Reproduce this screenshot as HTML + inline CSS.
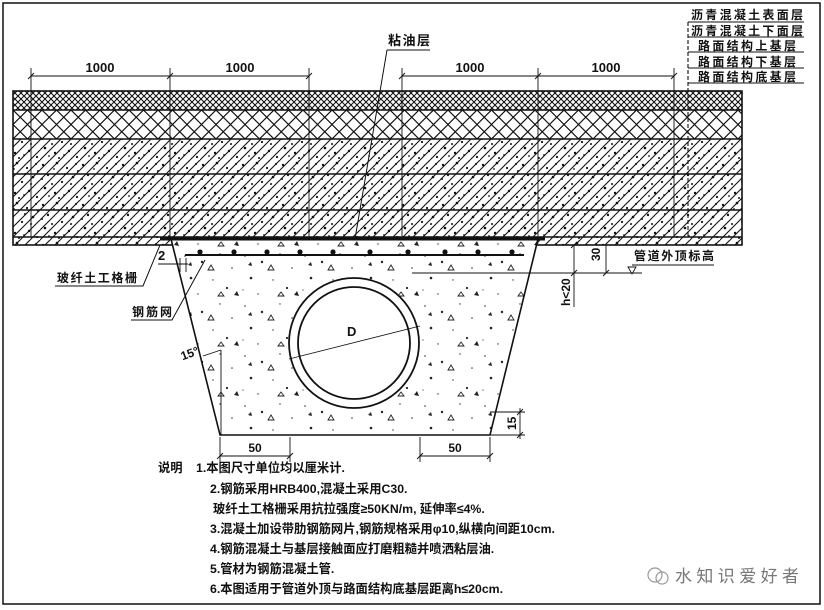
<!DOCTYPE html>
<html><head><meta charset="utf-8"><style>
html,body{margin:0;padding:0;background:#fff;}
svg{display:block;}
text{font-family:"Liberation Sans","Noto Sans CJK SC",sans-serif;font-weight:bold;fill:#111;}
</style></head><body>
<svg width="824" height="610" viewBox="0 0 824 610" xmlns="http://www.w3.org/2000/svg">
<defs>
<pattern id="fine" width="6" height="6" patternUnits="userSpaceOnUse">
<path d="M0,0L6,6M6,0L0,6" stroke="#111" stroke-width="1.1"/>
</pattern>
<pattern id="coarse" width="14.5" height="29" patternUnits="userSpaceOnUse" patternTransform="translate(13,110)">
<path d="M0,0L14.5,14.5L0,29M14.5,0L0,14.5L14.5,29" stroke="#111" stroke-width="1.2" fill="none"/>
</pattern>
<pattern id="hatch" width="40" height="40" patternUnits="userSpaceOnUse">
<path d="M-10,10L10,-10M-10,20L20,-10M-10,30L30,-10M-10,40L40,-10M0,40L40,0M10,40L40,10M20,40L40,20M30,40L40,30M-10,50L50,-10" stroke="#111" stroke-width="1.1"/>
<g fill="#111">
<circle cx="3" cy="5" r="1.2"/><circle cx="17" cy="3" r="1.3"/><circle cx="27" cy="8" r="1.1"/>
<circle cx="8" cy="15" r="1.2"/><circle cx="33" cy="17" r="1.3"/><circle cx="22" cy="22" r="1.1"/>
<circle cx="5" cy="28" r="1.3"/><circle cx="15" cy="33" r="1.2"/><circle cx="29" cy="31" r="1.2"/>
<circle cx="37" cy="37" r="1.1"/><circle cx="12" cy="24" r="1"/><circle cx="36" cy="4" r="1"/>
<circle cx="25" cy="14" r="1"/><circle cx="2" cy="19" r="1"/><circle cx="19" cy="38" r="1"/>
<circle cx="31" cy="24" r="1"/><circle cx="9" cy="36" r="0.9"/><circle cx="38" cy="11" r="1"/>
<circle cx="14" cy="9" r="0.9"/><circle cx="24" cy="35" r="0.9"/>
</g>
</pattern>
<pattern id="conc" width="60" height="50" patternUnits="userSpaceOnUse">
<circle cx="5" cy="6" r="0.8" fill="#333"/><circle cx="22" cy="12" r="1.2" fill="#222"/><circle cx="40" cy="4" r="0.7" fill="#333"/>
<circle cx="52" cy="18" r="0.8" fill="#333"/><circle cx="11" cy="28" r="1.3" fill="#222"/><circle cx="33" cy="30" r="0.7" fill="#333"/>
<circle cx="47" cy="38" r="1.1" fill="#222"/><circle cx="18" cy="44" r="0.7" fill="#333"/><circle cx="3" cy="40" r="0.6" fill="#333"/>
<path d="M28,20l3,-5l3,5z" fill="none" stroke="#222" stroke-width="0.9"/>
<path d="M54,45l3,-4l2,5z" fill="#222"/>
<path d="M8,15l3,-3l1,4z" fill="#222"/>
<path d="M38,46l3,-4l3,4z" fill="none" stroke="#222" stroke-width="0.9"/>
</pattern>
</defs>
<rect x="3" y="3" width="817" height="601" fill="none" stroke="#111" stroke-width="1.5"/>

<rect x="13" y="91" width="729" height="19" fill="url(#fine)"/>
<rect x="13" y="110" width="729" height="29" fill="url(#coarse)"/>
<rect x="13" y="139" width="729" height="106" fill="url(#hatch)"/>
<rect x="13" y="91" width="729" height="154" fill="none" stroke="#111" stroke-width="1.6"/>
<path d="M13,110H742M13,139H742M13,174H742M13,210H742M13,237H742" stroke="#111" stroke-width="1.4"/>

<polygon points="171,239 538,239 490,435 220,435" fill="#fff"/>
<polygon points="171,239 538,239 490,435 220,435" fill="url(#conc)" stroke="#111" stroke-width="1.6"/>
<line x1="160" y1="239" x2="545" y2="239" stroke="#111" stroke-width="3"/>

<g stroke="#111" stroke-width="0.9" fill="none">
<path d="M31,68V237M170,68V237M309,68V237M402,68V237M538,68V237M674,68V237"/>
<path d="M31,76H309M402,76H674"/>
<path d="M28,79L34,73M167,79L173,73M306,79L312,73M399,79L405,73M535,79L541,73M671,79L677,73"/>
</g>
<text x="100" y="72" font-size="13" text-anchor="middle">1000</text>
<text x="240" y="72" font-size="13" text-anchor="middle">1000</text>
<text x="470" y="72" font-size="13" text-anchor="middle">1000</text>
<text x="606" y="72" font-size="13" text-anchor="middle">1000</text>

<g stroke="#111" stroke-width="1.1" fill="none">
<path d="M688,22H804M688,37H804M688,52H804M688,68H804M688,83H804"/>
<path d="M688,22V237" stroke-dasharray="4,2"/>
</g>
<text x="691" y="19" font-size="12" textLength="112">沥青混凝土表面层</text>
<text x="691" y="35" font-size="12" textLength="112">沥青混凝土下面层</text>
<text x="698" y="50" font-size="12" textLength="98">路面结构上基层</text>
<text x="698" y="66" font-size="12" textLength="98">路面结构下基层</text>
<text x="698" y="81" font-size="12" textLength="98">路面结构底基层</text>

<text x="388" y="45" font-size="13" textLength="42">粘油层</text>
<path d="M387,50H430M387,50L355,239" stroke="#111" stroke-width="1" fill="none"/>

<line x1="185" y1="255" x2="524" y2="255" stroke="#111" stroke-width="2"/>
<g fill="#111">
<circle cx="200" cy="252" r="2.6"/><circle cx="234" cy="252" r="2.6"/><circle cx="267" cy="252" r="2.6"/><circle cx="300" cy="252" r="2.6"/>
<circle cx="333" cy="252" r="2.6"/><circle cx="370" cy="252" r="2.6"/><circle cx="408" cy="252" r="2.6"/><circle cx="445" cy="252" r="2.6"/>
<circle cx="478" cy="252" r="2.6"/><circle cx="512" cy="252" r="2.6"/>
</g>

<circle cx="354" cy="343" r="65" fill="#fff" stroke="#111" stroke-width="1.8"/>
<circle cx="354" cy="343" r="56" fill="#fff" stroke="#111" stroke-width="1.8"/>
<line x1="289" y1="359" x2="420" y2="326" stroke="#111" stroke-width="0.9"/>
<text x="347" y="336" font-size="13">D</text>

<text x="158" y="260" font-size="13">2</text>
<path d="M158,264H188M180,258V272M186,258V272" stroke="#111" stroke-width="0.9" fill="none"/>
<text x="57" y="282" font-size="12" textLength="80">玻纤土工格栅</text>
<path d="M55,286H143L160,245" stroke="#111" stroke-width="1" fill="none"/>
<text x="132" y="316" font-size="12" textLength="40">钢筋网</text>
<path d="M131,320H172L205,260" stroke="#111" stroke-width="1" fill="none"/>
<text x="180" y="358" font-size="12" transform="rotate(-20 188 352)">15°</text>
<path d="M221,350V435M203,356L221,350" stroke="#111" stroke-width="0.9" fill="none"/>

<g stroke="#111" stroke-width="0.9" fill="none">
<path d="M412,273H642M574,245V307M606,245V273"/>
<path d="M571,248L577,242M571,276L577,270M603,276L609,270"/>
</g>
<path d="M628,267L636,267L632,274Z" fill="none" stroke="#111" stroke-width="0.9"/>
<text x="634" y="260" font-size="12" textLength="80">管道外顶标高</text>
<line x1="632" y1="265" x2="714" y2="265" stroke="#111" stroke-width="1"/>
<text font-size="12" transform="translate(600,261) rotate(-90)">30</text>
<text font-size="12" transform="translate(570,306) rotate(-90)">h&lt;20</text>

<g stroke="#111" stroke-width="0.9" fill="none">
<path d="M220,437V462M290,437V462M220,456H290M420,437V462M490,437V462M420,456H490"/>
<path d="M217,459L223,453M287,459L293,453M417,459L423,453M487,459L493,453"/>
<path d="M490,412H525M490,435H525M520,408V439M517,415L523,409M517,438L523,432"/>
</g>
<text x="255" y="452" font-size="12" text-anchor="middle">50</text>
<text x="455" y="452" font-size="12" text-anchor="middle">50</text>
<text font-size="12" transform="translate(516,430) rotate(-90)">15</text>

<g font-size="12.3">
<text x="158" y="472">说明</text>
<text x="196" y="472">1.本图尺寸单位均以厘米计.</text>
<text x="210" y="493">2.钢筋采用HRB400,混凝土采用C30.</text>
<text x="213" y="513">玻纤土工格栅采用抗拉强度≥50KN/m, 延伸率≤4%.</text>
<text x="210" y="533">3.混凝土加设带肋钢筋网片,钢筋规格采用φ10,纵横向间距10cm.</text>
<text x="210" y="553">4.钢筋混凝土与基层接触面应打磨粗糙并喷洒粘层油.</text>
<text x="210" y="573">5.管材为钢筋混凝土管.</text>
<text x="210" y="593">6.本图适用于管道外顶与路面结构底基层距离h≤20cm.</text>
</g>
<circle cx="655" cy="575" r="7" fill="none" stroke="#999" stroke-width="1.2"/>
<circle cx="662" cy="578" r="6" fill="none" stroke="#999" stroke-width="1.2"/>
<text x="675" y="582" font-size="17" style="font-weight:normal;fill:#777" textLength="124">水知识爱好者</text>
</svg>
</body></html>
